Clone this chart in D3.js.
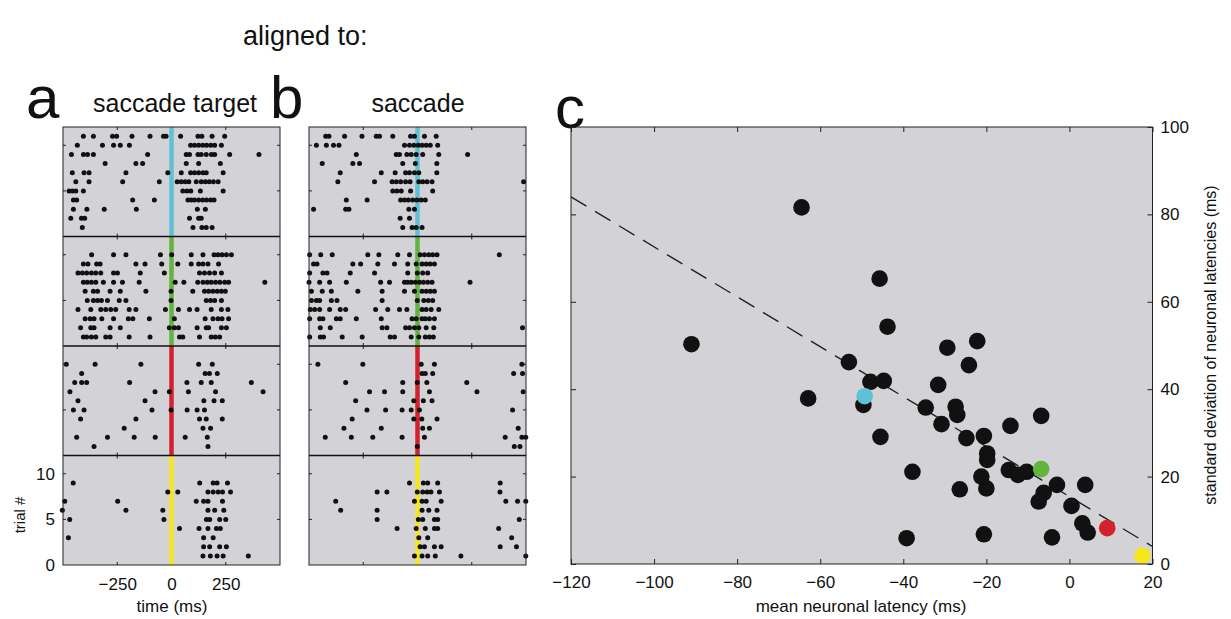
<!DOCTYPE html>
<html>
<head>
<meta charset="utf-8">
<script src="https://cdn.jsdelivr.net/npm/d3@7"></script>
<style>
body { margin: 0; background: #fff; }
text { font-family: 'Liberation Sans', Arial, Helvetica, sans-serif; fill: #111; }
</style>
</head>
<body>
<svg id="fig" width="1231" height="619"></svg>
<script>
// spike times in ms, one array per trial, top trial first
var targetCyan = [
	[-406,-360,-272,-253,-182,-99,-37,-25,42,122,140,187,245],
	[-434,-318,-267,-236,-194,88,106,125,144,162,181,199,230],
	[-461,-406,-387,-360,-110,68,83,122,137,160,184,199,268,403],
	[-306,-164,-133,68,125,225],
	[-457,-403,-380,-210,-17,45,88,106,125,145,160,238],
	[-441,-380,-225,-56,26,45,63,80,114,137,156,174,193,215],
	[-472,-457,-441,-406,52,71,89,133,238],
	[-452,-437,-179,-79,76,91,106,125,144,162,181,196],
	[-452,-390,-310,-162,119,156],
	[-464,-415,-400,83,125,137],
	[-411,99,140,160,187]
] ;
var targetGreen = [
	[-368,-267,-210,-51,1,91,145,196,214,233,253,276],
	[-406,-385,-345,-329,-164,-122,-45,29,91,125,145,168,217],
	[-431,-411,-391,-369,-349,-326,-267,-249,-144,-33,129,152,175,199,230],
	[-406,-388,-369,-349,-314,-267,-226,-149,17,57,121,145,165,183,203,223,245,263,430],
	[-398,-360,-341,-283,-236,-118,-2,98,152,171,191,211,230,248],
	[-388,-360,-341,-323,-295,-241,-210,-2,160,180,199,230],
	[-431,-372,-326,-303,-280,-257,-195,-164,-28,32,83,118,183,230,260],
	[-398,-375,-357,-321,-267,-199,-178,-102,13,155,191,214,233,263],
	[-419,-372,-357,-283,-236,-10,13,32,118,160,171,230,253],
	[-406,-391,-369,-349,-303,-283,-195,-99,37,52,129,183,202,222]
] ;
var targetRed = [
	[-485,-352,-141,125,188],
	[-414,155,175,211],
	[-446,-414,-391,-193,71,137,183,368],
	[-468,-76,-10,78,203,422],
	[-431,-122,149,196,234],
	[-452,-403,-90,-2,72,118,152],
	[-419,-164,129,160,234],
	[-218,145,180],
	[-437,-295,-172,-75,63,165],
	[-357,168]
] ;
var targetYellow = [
	[-453,130,192,210,258],
	[-17,29,168,192,215,235,272],
	[-492,-248,114,148,168,235],
	[-503,-210,-40,168,199,241],
	[-469,-35,161,176,222,250],
	[37,127,168,207,225],
	[-475,148,192],
	[148,176,222,253],
	[145,179,210,238,354]
] ;
var saccadeCyan = [
	[-423,-408,-336,-256,-190,-175,-114,-32,-14,32,86],
	[-466,-420,-387,-362,-60,-37,-17,3,21,40,59,93],
	[-282,-98,-83,-49,-29,-6,24,98,231],
	[-439,-298,-267,-68,-10,89],
	[-356,-167,-103,-55,-37,-14,6,89],
	[-367,-198,-117,-98,-78,-55,-34,6,24,44,67,489],
	[-114,-95,-75,-32,70],
	[-328,-232,-78,-60,-42,-22,-3,17,36],
	[-479,-331,-316,-40,-14],
	[-80,-37],
	[-68,-25,-6,21]
] ;
var saccadeGreen = [
	[-497,-446,-393,-229,-178,-91,-37,12,32,52,70,90,377],
	[-479,-463,-298,-262,-183,-106,-45,-6,21,40,58,78],
	[-497,-436,-417,-310,-198,-45,-1,24,47],
	[-500,-451,-405,-328,-170,-129,-60,-45,-29,-10,9,27,47,67,242],
	[-489,-439,-397,-275,-163,-60,-14,21,40,59,78],
	[-489,-466,-451,-397,-371,-163,-1,29,50,70],
	[-494,-474,-451,-405,-356,-331,-193,-137,-83,-49,21,40,63,98],
	[-497,-451,-436,-374,-356,-282,-167,-25,-6,21,36,55,78],
	[-448,-402,-163,-141,-55,-37,-14,6,40,75,484],
	[-497,-448,-433,-347,-255,-126,-106,-29,6,36,55,73]
] ;
var saccadeRed = [
	[-459,-252,17,78,481],
	[21,36,70,443,484],
	[-331,-68,-1,43,227],
	[-221,-152,-68,55,274,487],
	[-285,-17,27,67],
	[-233,-147,-71,-29,9,438],
	[-301,-17,20,90],
	[-339,-167,24,55,464],
	[-425,-305,-206,-71,32,404,481,499],
	[-1,446,472]
] ;
var saccadeYellow = [
	[-37,27,47,93,381],
	[-186,-141,-1,24,44,62,101,380],
	[-377,-14,21,40,109,407,461,499],
	[-354,-186,21,52,90],
	[-186,4,24,78,93,469],
	[-94,-6,36,78,93,374],
	[6,47,434],
	[12,32,78,109,381,456],
	[-14,21,47,82,200,499]
] ;
var epochColors = ['#5fc0d6','#62b43d','#d2222f','#f6e61e'] ;
var timeTicks = [-250,0,250] ;
var trialTicks = [0,5,10] ;

// panel c: one point per neuron
var meanLatency = [-64.5,-91,-62.9,-53.1,-43.8,-45.7,-29.4,-22.2,-24.2,-47.9,-44.7,-49.6,-31.6,-34.6,-27.4,-27,-30.8,-45.5,-24.8,-20.6,-14.2,-6.8,-19.8,-19.8,-14.6,-12.4,-10.3,-37.8,-21.2,-20,-26.4,-3,3.8,-6.2,-7.4,0.5,3.1,4.4,-39.2,-20.6,-4.2] ;
var sdLatency = [81.6,50.3,37.9,46.2,54.3,65.3,49.5,51,45.5,41.7,41.9,36.4,41,35.8,36,34.1,32,29.1,28.8,29.3,31.6,33.9,25.3,23.8,21.5,20.4,21.1,21.1,20,17.3,17.1,18.1,18.1,16.3,14.3,13.3,9.3,7.2,5.9,6.8,6.1] ;
var markedMean = [-49.3,-6.8,9.1,17.6] ;
var markedSd = [38.4,21.7,8.2,1.9] ;
var fitX = [-120,20] ;
var fitY = [84,4] ;
var latencyTicks = [-120,-100,-80,-60,-40,-20,0,20] ;
var sdTicks = [0,20,40,60,80,100] ;

var svg = d3.select('#fig') ;
var bg = '#d3d3d7' ;

function raster(left, blocks) {
	var width = 217, top = 127, h = 109.5 ;
	var g = svg.append('g') ;
	var x = d3.scaleLinear().domain([-500,500]).range([left,left+width]) ;
	g.append('rect').attr('x',left).attr('y',top).attr('width',width).attr('height',h*4).attr('fill',bg) ;
	var lastY ;
	blocks.forEach(function(rows,k) {
		var t = top + k*h ;
		var y = d3.scaleLinear().domain([0,12]).range([t+h,t]) ;
		lastY = y ;
		g.append('line').attr('x1',x(0)).attr('x2',x(0)).attr('y1',t).attr('y2',t+h)
			.attr('stroke',epochColors[k]).attr('stroke-width',4.5) ;
		rows.forEach(function(row,i) {
			var trial = rows.length - i ;
			g.selectAll(null).data(row).enter().append('circle')
				.attr('cx',function(d) { return x(d) ; })
				.attr('cy',y(trial))
				.attr('r',2.5)
				.attr('fill','#111') ;
		}) ;
		// small inward ticks
		[5,10].forEach(function(v) {
			g.append('line').attr('x1',left).attr('x2',left+3).attr('y1',y(v)).attr('y2',y(v)).attr('stroke','#222') ;
			g.append('line').attr('x1',left+width-3).attr('x2',left+width).attr('y1',y(v)).attr('y2',y(v)).attr('stroke','#222') ;
		}) ;
		[-250,250].forEach(function(v) {
			g.append('line').attr('x1',x(v)).attr('x2',x(v)).attr('y1',t).attr('y2',t+3).attr('stroke','#222') ;
			g.append('line').attr('x1',x(v)).attr('x2',x(v)).attr('y1',t+h-3).attr('y2',t+h).attr('stroke','#222') ;
		}) ;
		if ( k > 0 )
			g.append('line').attr('x1',left).attr('x2',left+width).attr('y1',t).attr('y2',t).attr('stroke','#111').attr('stroke-width',1.5) ;
	}) ;
	g.append('rect').attr('x',left).attr('y',top).attr('width',width).attr('height',h*4)
		.attr('fill','none').attr('stroke','#222').attr('stroke-width',1) ;
	return { x: x, y: lastY, bottom: top + h*4 } ;
}

var pa = raster(63, [targetCyan,targetGreen,targetRed,targetYellow]) ;
raster(309, [saccadeCyan,saccadeGreen,saccadeRed,saccadeYellow]) ;

var ax = svg.append('g').attr('transform','translate(0,'+pa.bottom+')')
	.call(d3.axisBottom(pa.x).tickValues(timeTicks).tickSize(0).tickPadding(13)) ;
ax.select('.domain').remove() ;
ax.selectAll('text').attr('font-size',17).attr('font-family',"'Liberation Sans', Arial, sans-serif").attr('fill','#111') ;
var ay = svg.append('g').attr('transform','translate(63,0)')
	.call(d3.axisLeft(pa.y).tickValues(trialTicks).tickSize(0).tickPadding(8)) ;
ay.select('.domain').remove() ;
ay.selectAll('text').attr('font-size',17).attr('font-family',"'Liberation Sans', Arial, sans-serif").attr('fill','#111') ;

svg.append('text').attr('x',172).attr('y',612).attr('text-anchor','middle').attr('font-size',17).text('time (ms)') ;
svg.append('text').attr('transform','translate(25,515) rotate(-90)').attr('text-anchor','middle').attr('font-size',15).text('trial #') ;

// titles
svg.append('text').attr('x',243).attr('y',45).attr('font-size',27).text('aligned to:') ;
svg.append('text').attr('x',175).attr('y',112).attr('text-anchor','middle').attr('font-size',25).text('saccade target') ;
svg.append('text').attr('x',418).attr('y',112).attr('text-anchor','middle').attr('font-size',25).text('saccade') ;
svg.append('text').attr('x',26).attr('y',118).attr('font-size',60).text('a') ;
svg.append('text').attr('x',270).attr('y',118).attr('font-size',60).text('b') ;
svg.append('text').attr('x',555).attr('y',128).attr('font-size',60).text('c') ;

// panel c
var cx = d3.scaleLinear().domain([-120,20]).range([571,1152.5]) ;
var cy = d3.scaleLinear().domain([0,100]).range([564,127]) ;
svg.append('rect').attr('x',571).attr('y',127).attr('width',581.5).attr('height',437).attr('fill',bg) ;

svg.append('line')
	.attr('x1',cx(fitX[0])).attr('y1',cy(fitY[0]))
	.attr('x2',cx(fitX[1])).attr('y2',cy(fitY[1]))
	.attr('stroke','#222').attr('stroke-width',1.4).attr('stroke-dasharray','18,10') ;

svg.selectAll(null).data(meanLatency).enter().append('circle')
	.attr('cx',function(d) { return cx(d) ; })
	.attr('cy',function(d,i) { return cy(sdLatency[i]) ; })
	.attr('r',8.3).attr('fill','#111') ;
svg.selectAll(null).data(markedMean).enter().append('circle')
	.attr('cx',function(d) { return cx(d) ; })
	.attr('cy',function(d,i) { return cy(markedSd[i]) ; })
	.attr('r',8.3).attr('fill',function(d,i) { return epochColors[i] ; }) ;

function styleAxis(a, labels) {
	a.select('.domain').remove() ;
	a.selectAll('line').attr('stroke','#222') ;
	a.selectAll('text').attr('font-size',17).attr('font-family',"'Liberation Sans', Arial, sans-serif").attr('fill','#111') ;
	if ( !labels ) a.selectAll('text').remove() ;
}
styleAxis(svg.append('g').attr('transform','translate(0,564)')
	.call(d3.axisBottom(cx).tickValues(latencyTicks).tickSizeInner(-5).tickSizeOuter(0).tickPadding(12)), true) ;
styleAxis(svg.append('g').attr('transform','translate(0,127)')
	.call(d3.axisTop(cx).tickValues(latencyTicks).tickSizeInner(-5).tickSizeOuter(0)), false) ;
styleAxis(svg.append('g').attr('transform','translate(571,0)')
	.call(d3.axisLeft(cy).tickValues(sdTicks).tickSizeInner(-5).tickSizeOuter(0)), false) ;
styleAxis(svg.append('g').attr('transform','translate(1152.5,0)')
	.call(d3.axisRight(cy).tickValues(sdTicks).tickSizeInner(-5).tickSizeOuter(0).tickPadding(8)), true) ;

svg.append('rect').attr('x',571).attr('y',127).attr('width',581.5).attr('height',437)
	.attr('fill','none').attr('stroke','#222').attr('stroke-width',1) ;

svg.append('text').attr('x',861).attr('y',612).attr('text-anchor','middle').attr('font-size',17).text('mean neuronal latency (ms)') ;
svg.append('text').attr('transform','translate(1216,345) rotate(-90)').attr('text-anchor','middle').attr('font-size',16).text('standard deviation of neuronal latencies (ms)') ;
</script>
</body>
</html>
